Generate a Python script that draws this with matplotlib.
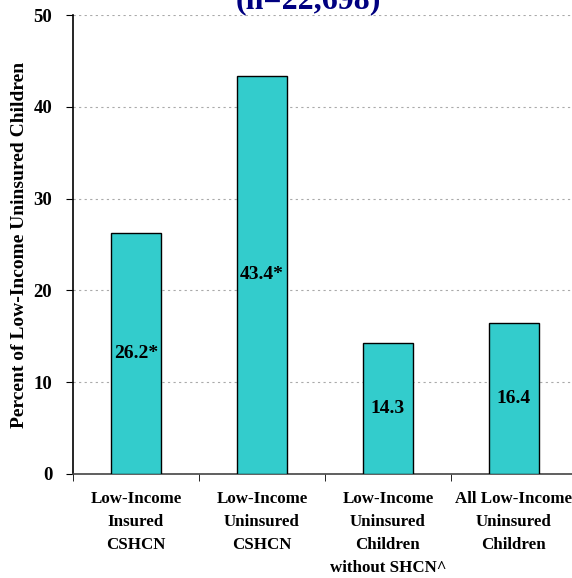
import numpy as np
import matplotlib.pyplot as plt

# Data
categories = ['Low-Income\nInsured\nCSHCN',
              'Low-Income\nUninsured\nCSHCN',
              'Low-Income\nUninsured\nChildren\nwithout SHCN^',
              'All Low-Income\nUninsured\nChildren']
values = [26.2, 43.4, 14.3, 16.4]
value_labels = ['26.2*', '43.4*', '14.3', '16.4']
yticks = [0, 10, 20, 30, 40, 50]

plt.rcParams['font.family'] = ['Liberation Serif', 'DejaVu Serif']
plt.rcParams['font.weight'] = 'bold'

# Figure
fig = plt.figure(figsize=(5.72, 5.78), dpi=100)
ax = fig.add_axes([73/572, 1 - 474/578, 504/572, (474 - 15)/578])

x = np.arange(len(categories))
bars = ax.bar(x, values, width=0.4, color='#33CCCC', edgecolor='black',
              linewidth=1.0, zorder=3)

for xi, v, lab in zip(x, values, value_labels):
    ax.text(xi, v / 2, lab, ha='center', va='center', fontsize=14,
            fontweight='bold', zorder=4)

ax.set_xlim(-0.5, 3.5)
ax.set_ylim(0, 50)
ax.set_yticks(yticks)
ax.set_yticklabels([str(t) for t in yticks], fontsize=13.5, fontweight='bold')
ax.yaxis.grid(True, linestyle=(0, (2, 3)), color='#aaaaaa', linewidth=0.8, zorder=0)

ax.set_xticks(x)
ax.set_xticklabels(categories, fontsize=12.2, fontweight='bold', linespacing=1.58,
                   va='top')
ax.tick_params(axis='x', which='major', length=0, pad=12)
ax.set_xticks(np.arange(-0.5, 4, 1.0), minor=True)
ax.tick_params(axis='x', which='minor', length=5, direction='out')
ax.tick_params(axis='y', length=5, direction='out', pad=10)

ax.spines['top'].set_visible(False)
ax.spines['right'].set_visible(False)
ax.spines['left'].set_linewidth(1.2)
ax.spines['bottom'].set_color('#444444')
ax.spines['bottom'].set_linewidth(1.2)

ax.set_ylabel('Percent of Low-Income Uninsured Children', fontsize=14,
              fontweight='bold', labelpad=4)

# Title (partly cut off at top)
fig.text(308/572, 1 - 8/578, '(n=22,698)', ha='center', va='baseline',
         fontsize=23, fontweight='bold', color='#000080')

fig.savefig('out.png', dpi=100)
